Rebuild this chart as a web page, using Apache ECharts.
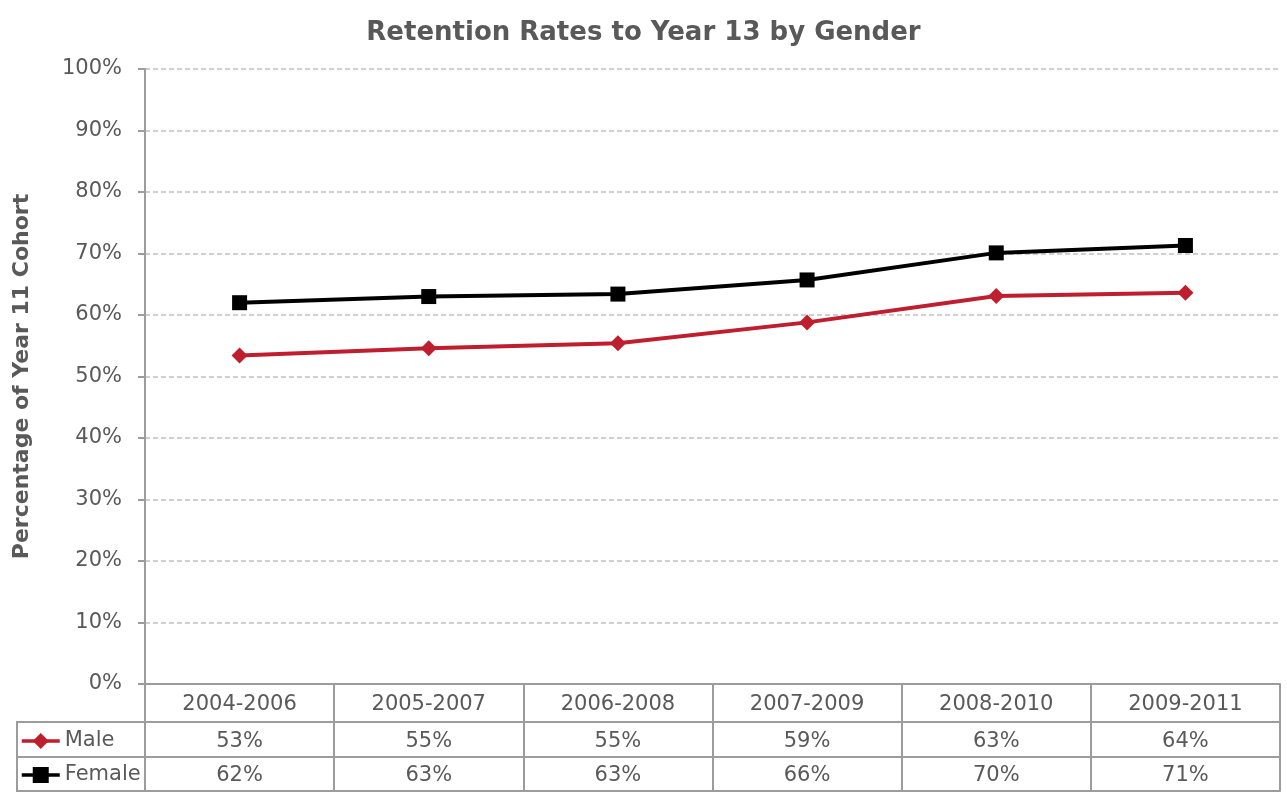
<!DOCTYPE html>
<html>
<head>
<meta charset="utf-8">
<title>Retention Rates to Year 13 by Gender</title>
<script src="https://cdn.jsdelivr.net/npm/echarts@6/dist/echarts.min.js"></script>
<style>
  html, body { margin: 0; padding: 0; background: #fff; }
  #chart { width: 1287px; height: 798px; }
</style>
</head>
<body>
<div id="chart"></div>
<script>
// data
var periods = ['2004-2006', '2005-2007', '2006-2008', '2007-2009', '2008-2010', '2009-2011']
var male = [53.4, 54.6, 55.4, 58.8, 63.1, 63.6]
var female = [62.0, 63.0, 63.4, 65.7, 70.1, 71.3]

var txt = '#595959'
var border = '#9c9c9c'
var font = 'DejaVu Sans, Verdana, sans-serif'

function pct(v) {
  return Math.round(v) + '%'
}

// one extra x axis per row of the data table under the plot
function tableAxis(offset, tickLen, labels, margin) {
  return {
    type: 'category',
    gridIndex: 0,
    position: 'bottom',
    offset: offset,
    boundaryGap: true,
    data: labels || periods,
    axisLine: { show: true, lineStyle: { color: border, width: 2 } },
    axisTick: { show: tickLen > 0, length: tickLen, interval: 0, lineStyle: { color: border, width: 2 } },
    axisLabel: { show: !!labels, interval: 0, margin: margin || 0, color: txt, fontSize: 21, fontFamily: font }
  }
}

function legendRow(name, top) {
  return {
    orient: 'horizontal',
    left: 20,
    top: top,
    padding: 0,
    itemWidth: 38,
    itemHeight: 20,
    itemGap: 0,
    lineStyle: { width: 3.5 },
    textStyle: { color: txt, fontSize: 21, lineHeight: 22, fontFamily: font },
    data: [name]
  }
}

var chart = echarts.init(document.getElementById('chart'))
var option = {
  backgroundColor: '#fff',
  animation: false,
  title: {
    text: 'Retention Rates to Year 13 by Gender',
    left: 'center',
    top: 15,
    textStyle: { color: txt, fontSize: 26, fontWeight: 'bold', fontFamily: font }
  },
  legend: [legendRow('Male', 730), legendRow('Female', 764)],
  grid: { left: 145, right: 7, top: 69, bottom: 114 },
  xAxis: [
    {
      type: 'category',
      position: 'bottom',
      boundaryGap: true,
      data: periods,
      axisLine: { show: true, lineStyle: { color: border, width: 2 } },
      axisTick: { show: true, length: 38, interval: 0, lineStyle: { color: border, width: 2 } },
      axisLabel: { interval: 0, margin: 10, color: txt, fontSize: 21, fontFamily: font }
    },
    tableAxis(38, 35, male.map(pct), 9),
    tableAxis(73, 34, female.map(pct), 8),
    tableAxis(107, 0, null)
  ],
  yAxis: {
    type: 'value',
    min: 0,
    max: 100,
    interval: 10,
    name: 'Percentage of Year 11 Cohort',
    nameLocation: 'middle',
    nameGap: 112,
    nameTextStyle: { color: txt, fontSize: 22, fontWeight: 'bold', fontFamily: font },
    axisLine: { show: true, lineStyle: { color: border, width: 2 } },
    axisTick: { show: true, length: 7, lineStyle: { color: border, width: 2 } },
    axisLabel: { formatter: '{value}%', margin: 23, color: txt, fontSize: 21, fontFamily: font },
    splitLine: { show: true, lineStyle: { color: '#c0c0c0', type: [5, 3], width: 1.5 } }
  },
  graphic: [
    {
      type: 'rect',
      shape: { x: 17, y: 722, width: 128, height: 35 },
      style: { fill: 'none', stroke: border, lineWidth: 2 },
      z: 0
    },
    {
      type: 'rect',
      shape: { x: 17, y: 757, width: 128, height: 34 },
      style: { fill: 'none', stroke: border, lineWidth: 2 },
      z: 0
    }
  ],
  series: [
    {
      name: 'Male',
      type: 'line',
      data: male,
      symbol: 'diamond',
      symbolSize: 16,
      lineStyle: { color: '#be1e2d', width: 4 },
      itemStyle: { color: '#be1e2d' },
      z: 3
    },
    {
      name: 'Female',
      type: 'line',
      data: female,
      symbol: 'rect',
      symbolSize: 15,
      lineStyle: { color: '#000', width: 4 },
      itemStyle: { color: '#000' },
      z: 3
    }
  ]
}
chart.setOption(option)
</script>
</body>
</html>
